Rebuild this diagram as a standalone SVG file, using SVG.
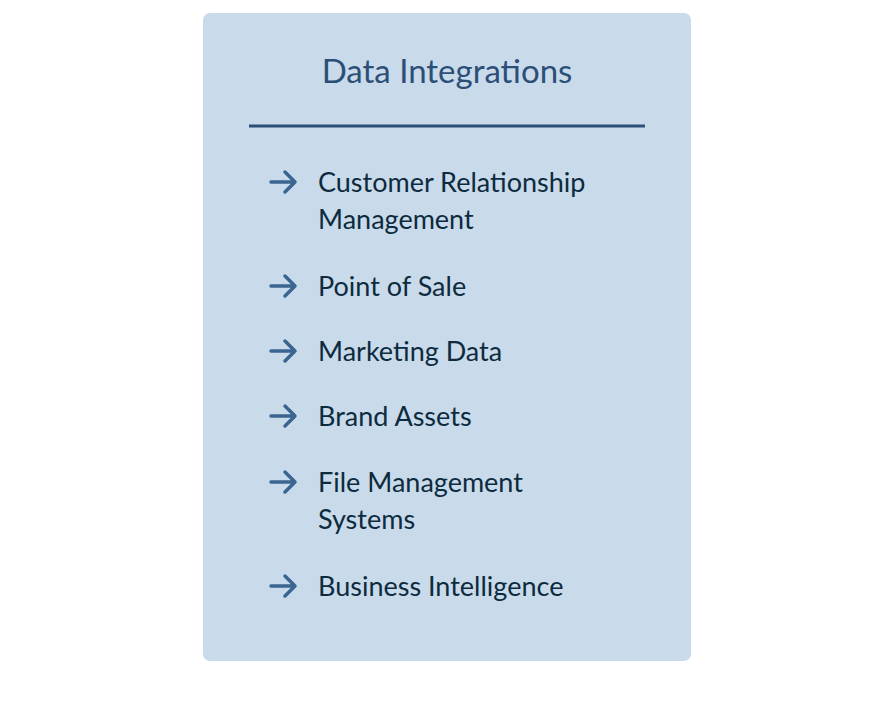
<svg xmlns="http://www.w3.org/2000/svg" width="894" height="710" viewBox="0 0 894 710">
<style>
.t{font-family:Lato,"Open Sans",sans-serif;font-size:27px;fill:#0d2b3e}
.a{fill:none;stroke:#3a6590;stroke-width:3.5;stroke-linecap:round;stroke-linejoin:round}
</style>
<defs><g id="arr"><path class="a" d="M-12 0H12M2-10L12 0L2 10"/></g></defs>
<rect x="0" y="0" width="894" height="710" fill="#fff"/>
<g id="panel">
<rect x="203" y="13" width="488" height="648" rx="7" fill="#c9daea"/>
<text x="447" y="83" text-anchor="middle" font-family="Lato,'Open Sans',sans-serif" font-size="33" fill="#2c4f78">Data Integrations</text>
<line x1="249" y1="126" x2="645" y2="126" stroke="#2c4f78" stroke-width="3"/>
</g>
<g id="items">
<use href="#arr" x="283" y="182"/><text class="t" x="318" y="192">Customer Relationship</text><text class="t" x="318" y="229">Management</text>
<use href="#arr" x="283" y="286"/><text class="t" x="318" y="296">Point of Sale</text>
<use href="#arr" x="283" y="351"/><text class="t" x="318" y="361">Marketing Data</text>
<use href="#arr" x="283" y="416"/><text class="t" x="318" y="426">Brand Assets</text>
<use href="#arr" x="283" y="482"/><text class="t" x="318" y="492">File Management</text><text class="t" x="318" y="529">Systems</text>
<use href="#arr" x="283" y="586"/><text class="t" x="318" y="596">Business Intelligence</text>
</g>
</svg>
